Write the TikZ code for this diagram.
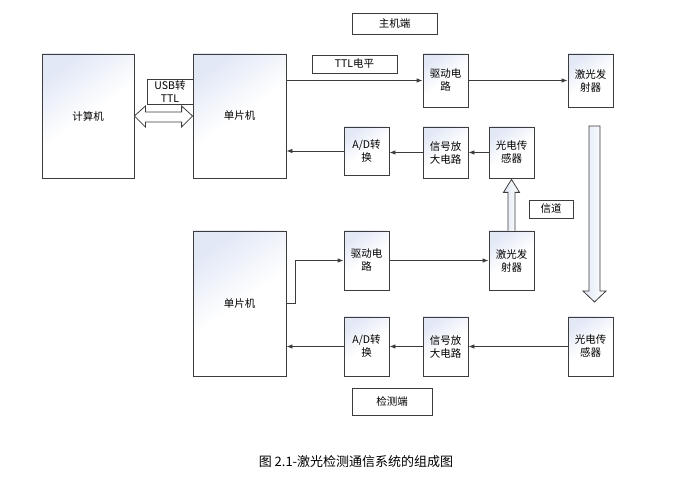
\documentclass[tikz,border=0pt]{standalone}
\usepackage{fontspec}
\setmainfont{Noto Sans CJK SC}
\usetikzlibrary{arrows.meta,calc}
\definecolor{bx}{RGB}{226,232,246}
\definecolor{ln}{RGB}{60,60,60}
\tikzset{
  box/.style={draw=ln, line width=0.8pt, top color=bx, bottom color=white, middle color=white, shading angle=35,
    align=center, inner sep=0pt, font=\fontsize{10.5}{13}\selectfont},
  plain/.style={draw=ln, line width=0.8pt, fill=white, align=center, inner sep=0pt, font=\fontsize{10.5}{13}\selectfont},
  conn/.style={draw=ln, line width=0.8pt, -{Latex[length=6pt,width=4.5pt]}},
  hollow/.style={draw=ln, line width=0.8pt, left color=bx, right color=white}
}
\begin{document}
\begin{tikzpicture}[x=1pt,y=-1pt]
\useasboundingbox (0,0) rectangle (681,478);
% host side
\node[plain, minimum width=85, minimum height=21] (host) at (394.5,23.5) {主机端};
\node[box, minimum width=92, minimum height=124] (pc) at (88,116) {计算机};
\node[box, minimum width=93, minimum height=124] (mcu1) at (239.5,116) {单片机};
\node[plain, minimum width=46, minimum height=25] (usb) at (170,91.5) {USB转\\TTL};
\node[plain, minimum width=85, minimum height=18] (ttl) at (354.5,64) {TTL电平};
\node[box, minimum width=45, minimum height=53] (drv1) at (445.5,80.5) {驱动电\\路};
\node[box, minimum width=45, minimum height=53] (las1) at (590.5,80.5) {激光发\\射器};
\node[box, minimum width=45, minimum height=48] (ad1) at (366.5,151) {A/D转\\换};
\node[box, minimum width=45, minimum height=51] (sig1) at (445.5,152.5) {信号放\\大电路};
\node[box, minimum width=45, minimum height=51] (pd1) at (511.5,152.5) {光电传\\感器};
\node[plain, minimum width=44, minimum height=18] (chan) at (551,209) {信道};
% detection side
\node[box, minimum width=93, minimum height=145] (mcu2) at (239.5,303.5) {单片机};
\node[box, minimum width=45, minimum height=59] (drv2) at (366.5,260.5) {驱动电\\路};
\node[box, minimum width=45, minimum height=59] (las2) at (511.5,260.5) {激光发\\射器};
\node[box, minimum width=45, minimum height=59] (ad2) at (366.5,346.5) {A/D转\\换};
\node[box, minimum width=45, minimum height=59] (sig2) at (445.5,346.5) {信号放\\大电路};
\node[box, minimum width=45, minimum height=59] (pd2) at (590.5,346.5) {光电传\\感器};
\node[plain, minimum width=80, minimum height=27] (det) at (392,401.5) {检测端};
% caption
\node[font=\fontsize{13}{15}\selectfont, inner sep=0pt] (cap) at (356,462) {图 2.1-激光检测通信系统的组成图};
% connectors
\draw[conn] (mcu1.east |- drv1.west) -- (drv1.west);
\draw[conn] (drv1.east) -- (las1.west);
\draw[conn] (pd1.west) -- (sig1.east);
\draw[conn] (sig1.west) -- (sig1.west -| ad1.east);
\draw[conn] (ad1.west) -- (ad1.west -| mcu1.east);
\draw[conn] (mcu2.east) -- ++(9,0) |- (drv2.west);
\draw[conn] (drv2.east) -- (las2.west);
\draw[conn] (pd2.west) -- (sig2.east);
\draw[conn] (sig2.west) -- (ad2.east);
\draw[conn] (ad2.west) -- (ad2.west -| mcu2.east);
% double hollow arrow pc <-> mcu1
\coordinate (dl) at (pc.east);
\coordinate (dr) at (mcu1.west);
\draw[line width=0.8pt, draw=ln, fill=white]
  (dl) -- ($(dl)+(11,-10)$) -- ($(dl)+(11,-4)$) -- ($(dr)+(-11,-4)$) -- ($(dr)+(-11,-10)$)
  -- (dr) -- ($(dr)+(-11,11)$) -- ($(dr)+(-11,6)$) -- ($(dl)+(11,6)$) -- ($(dl)+(11,11)$) -- cycle;
% hollow up arrow las2 -> pd1
\coordinate (ub) at (las2.north);
\coordinate (ut) at ($(pd1.south)+(0,1)$);
\draw[hollow]
  ($(ub)+(-3.5,0)$) -- ($(ut)+(-3.5,13)$) -- ($(ut)+(-8,13)$) -- (ut) -- ($(ut)+(8,13)$)
  -- ($(ut)+(3.5,13)$) -- ($(ub)+(3.5,0)$);
% hollow down arrow (channel)
\coordinate (ct) at (594.5,126);
\coordinate (cb) at (594.5,302);
\draw[hollow]
  ($(ct)+(-5.5,0)$) -- ($(ct)+(5.5,0)$) -- ($(cb)+(5.5,-11)$) -- ($(cb)+(11.5,-11)$) -- (cb)
  -- ($(cb)+(-11.5,-11)$) -- ($(cb)+(-5.5,-11)$) -- cycle;
\end{tikzpicture}
\end{document}
